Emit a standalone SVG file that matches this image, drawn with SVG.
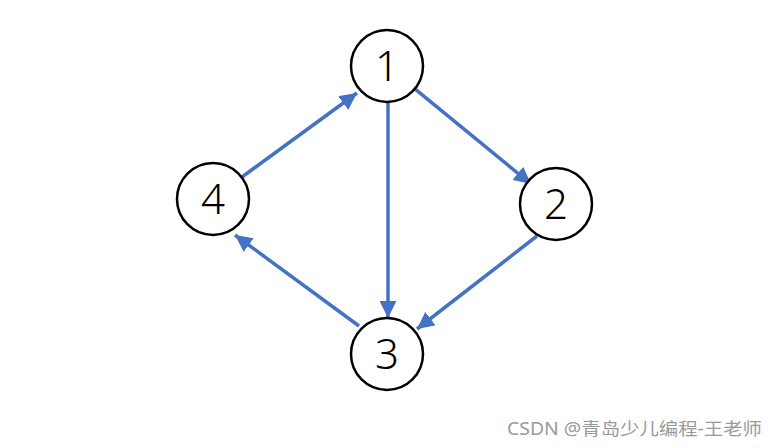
<svg xmlns="http://www.w3.org/2000/svg" width="779" height="448" viewBox="0 0 779 448">
<style>
.node circle{fill:#fff;stroke:#000;stroke-width:2.5}
.node text{font-family:"Noto Sans","DejaVu Sans",sans-serif;font-size:42px;font-weight:300;text-anchor:middle;fill:#000}
.edge{stroke:#4472C4;stroke-width:3.5;fill:none;marker-end:url(#ah)}
</style>
<defs>
<marker id="ah" markerUnits="userSpaceOnUse" markerWidth="19" markerHeight="17" refX="17" refY="8.5" orient="auto" viewBox="0 0 19 17">
<path d="M0,0 L17,8.5 L0,17 z" fill="#4472C4"/>
</marker>
</defs>
<rect width="779" height="448" fill="#fff"/>
<g id="connectors">
<line class="edge" x1="414.9" y1="88.8" x2="531" y2="184"/>
<line class="edge" x1="388" y1="102" x2="388" y2="318"/>
<line class="edge" x1="537" y1="236" x2="417" y2="329"/>
<line class="edge" x1="359" y1="326" x2="235" y2="235"/>
<line class="edge" x1="242" y1="177" x2="357" y2="93"/>
</g>
<g id="n1" class="node"><circle cx="387" cy="66" r="36"/><text x="387" y="81">1</text></g>
<g id="n2" class="node"><circle cx="556" cy="204" r="36"/><text x="556" y="219">2</text></g>
<g id="n3" class="node"><circle cx="387" cy="354" r="36"/><text x="387" y="369">3</text></g>
<g id="n4" class="node"><circle cx="213" cy="199" r="36"/><text x="213" y="214">4</text></g>
<text x="507" y="435" font-family="'Noto Sans','Noto Sans CJK SC',sans-serif" font-size="17.5" fill="#9a9a9a" textLength="255" lengthAdjust="spacingAndGlyphs">CSDN @青岛少儿编程-王老师</text>
</svg>
